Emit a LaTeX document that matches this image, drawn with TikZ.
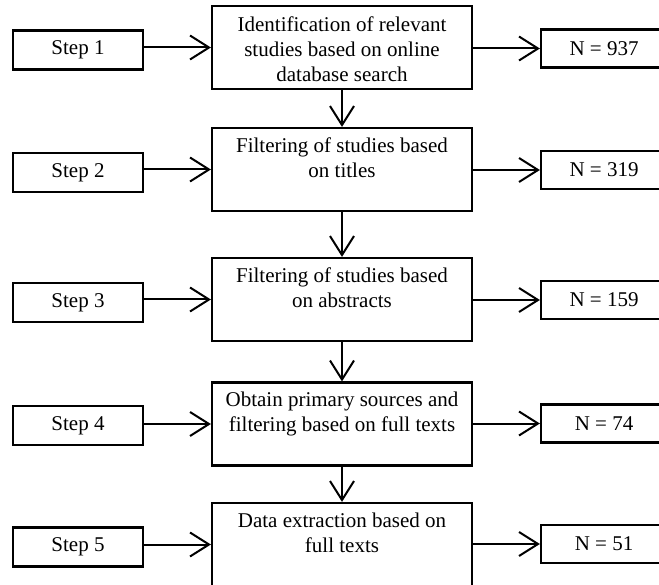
\documentclass[tikz,border=0pt]{standalone}
\usepackage{fontspec}
\setmainfont{Liberation Serif}
\usetikzlibrary{arrows.meta}
\begin{document}
\begin{tikzpicture}[x=1pt,y=-1pt,
  every node/.style={font=\fontsize{21}{25}\selectfont},
  box/.style={draw, line width=2.2pt, inner sep=0pt},
  stepbox/.style={box, minimum width=130pt, minimum height=39pt},
  mainbox/.style={box, minimum width=260pt, minimum height=83pt},
  numbox/.style={box, minimum width=126pt, minimum height=38pt},
  lbl/.style={anchor=north, inner sep=0pt, align=center},
  arr/.style={line width=2pt, -{Straight Barb[length=19pt,width=24pt,line width=2pt]}}]
\useasboundingbox (0,0) rectangle (659,585);
\clip (0,0) rectangle (659,585);
\fill[white] (0,0) rectangle (659,585);
% left step boxes
\node[stepbox] (s1) at (78,50) {Step 1};
\node[stepbox] (s2) at (78,172.5) {Step 2};
\node[stepbox] (s3) at (78,302.5) {Step 3};
\node[stepbox] (s4) at (78,425.5) {Step 4};
\node[stepbox] (s5) at (78,547) {Step 5};
% main boxes
\node[mainbox] (b1) at (342,47.5) {};
\node[mainbox] (b2) at (342,169.5) {};
\node[mainbox] (b3) at (342,299.5) {};
\node[mainbox] (b4) at (342,424) {};
\node[mainbox] (b5) at (342,544.5) {};
\node[lbl] (t1) at ([yshift=-11.5pt]b1.north) {Identification of relevant\\studies based on online\\database search};
\node[lbl] (t2) at ([yshift=-11pt]b2.north) {Filtering of studies based\\on titles};
\node[lbl] (t3) at ([yshift=-11pt]b3.north) {Filtering of studies based\\on abstracts};
\node[lbl] (t4) at ([yshift=-10pt]b4.north) {Obtain primary sources and\\filtering based on full texts};
\node[lbl] (t5) at ([yshift=-11pt]b5.north) {Data extraction based on\\full texts};
% right boxes
\node[numbox] (r1) at (604,48.5) {N = 937};
\node[numbox] (r2) at (604,170) {N = 319};
\node[numbox] (r3) at (604,300) {N = 159};
\node[numbox] (r4) at (604,423.5) {N = 74};
\node[numbox] (r5) at (604,544) {N = 51};
% arrows
\foreach \i in {1,...,5} {
  \draw[arr] (s\i.east |- b\i.center) -- (b\i.west);
  \draw[arr] (b\i.east |- r\i.center) -- (r\i.west);
}
\draw[arr] (b1.south) -- (b2.north);
\draw[arr] (b2.south) -- (b3.north);
\draw[arr] (b3.south) -- (b4.north);
\draw[arr] (b4.south) -- (b5.north);
\end{tikzpicture}
\end{document}
